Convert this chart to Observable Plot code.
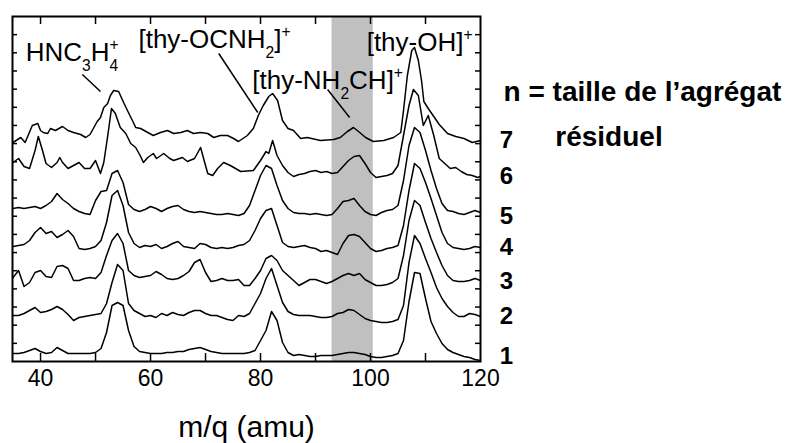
<!DOCTYPE html>
<html><head><meta charset="utf-8">
<script src="https://cdn.jsdelivr.net/npm/d3@7"></script>
<script src="https://cdn.jsdelivr.net/npm/@observablehq/plot@0.6"></script>
<style>body{margin:0;background:#fff;}</style>
</head><body><div id="chart"></div>
<script>
// m/q grid (amu) for the spectra sampled at integer masses
const mzGrid = d3.range(35, 121);
// intensities (arbitrary units, stacked as drawn) for residual cluster size n
const n1 = [8,8,9,11,13,10,8,9,14,11, 8,8,8,8,8,9,13,29,56,59, 56,31,15,10,9,8,8,8,9,9, 10,10,12,13,14,12,10,9,8,8, 8,8,8,9,11,21,31,50,41,19, 9,6,7,6,5,5,6,6,6,7, 8,9,9,8,7,5,4,4,5,6, 8,21,60,89,88,63,40,28,18,12, 9,7,5,4,2,1];
const n2 = [46,46,48,51,54,49,50,52,55,52, 47,41,44,45,46,47,48,58,79,97, 91,58,51,48,45,46,44,48,46,49, 47,46,49,51,51,48,46,46,44,42, 41,46,45,48,58,68,83,93,76,59, 50,47,46,46,46,45,44,44,45,48, 49,52,51,47,43,41,40,39,39,40, 42,56,99,126,118,103,89,74,63,55, 49,45,45,48,47,45];
const n3 = [84,91,75,79,89,91,85,84,95,96, 93,81,81,83,84,83,89,106,121,128, 118,91,86,84,85,86,90,87,83,82, 83,86,90,99,102,89,80,81,83,81, 81,82,76,76,83,91,103,106,101,91, 86,81,76,79,82,82,80,78,80,83, 86,88,86,88,82,79,76,76,77,79, 83,106,141,161,156,139,123,109,96,86, 81,80,80,81,83,81];
const n4 = [115,116,117,121,129,134,128,130,124,127, 131,125,113,112,113,115,121,139,166,171, 156,129,118,114,116,115,117,113,115,118, 120,115,114,113,118,117,114,113,114,113, 114,116,117,121,131,143,151,153,136,119, 115,114,115,116,114,113,110,111,109,107, 118,126,127,125,119,113,110,111,113,114, 116,136,171,198,193,179,163,146,129,118, 114,113,112,113,115,114];
const n5 = [153,154,153,154,155,153,156,160,168,162, 158,153,150,148,147,161,170,171,188,191, 179,157,152,150,152,155,153,150,153,155, 156,152,150,149,150,149,148,147,147,148, 147,146,148,156,171,186,196,193,176,161, 153,149,148,148,147,148,147,146,147,153, 160,161,163,156,150,147,146,149,151,152, 156,181,216,234,229,211,191,173,158,151, 150,148,147,149,151,149];
// [m/q, intensity] pairs read at irregular positions
const n6 = [[35,199],[36,203],[37,195],[38,193],[39,211],[39.6,225],[40.3,212],[41,198],[42,194],[43,199],[43.5,204],[44,199],[45,193],[46,196],[47,199],[48,193],[49,193],[50,201],[50.9,188],[51.5,199],[52.2,225],[52.9,253],[53.6,248],[54.5,234],[55.5,228],[56.4,218],[57.3,214],[58.2,205],[58.7,199],[59.5,204],[60.5,208],[61.1,203],[62.4,208],[63.5,203],[64.2,201],[65.8,204],[66.7,200],[68,203],[69.1,214],[70.4,188],[71.3,186],[72.2,193],[73.3,199],[74.5,196],[76.4,190],[78.7,191],[80,201],[81,210],[81.5,208],[82.2,221],[83,206],[84,196],[85,189],[86,185],[87,187],[88,188],[89,190],[90,191],[91,189],[92,190],[93,188],[94,189],[95,195],[96,201],[97,205],[98,206],[99,198],[100,189],[101,184],[102,185],[103,186],[104,188],[105,196],[106,226],[107,256],[107.8,272],[108.7,266],[109.6,236],[110.5,246],[111.5,226],[112.5,203],[113.5,198],[114.5,193],[115.5,194],[116.5,190],[117.5,187],[118.5,186],[119.5,184],[120,185]];
const n7 = [[35,219],[36.4,224],[37.2,219],[38.5,236],[39.5,238],[40,231],[40.5,229],[41.3,228],[41.8,233],[42.7,231],[44,235],[45,231],[46,229],[47.3,227],[48.2,224],[49,227],[49.6,233],[50.3,240],[50.9,244],[51.5,254],[52.2,258],[52.7,266],[53.3,271],[54.2,270],[55.1,259],[55.8,251],[56.7,241],[57.3,234],[58.2,233],[59.5,229],[60.5,226],[61.8,229],[63.1,231],[64.2,228],[65.5,229],[66.7,231],[67.8,228],[69.1,229],[70.4,228],[71.5,224],[72.7,226],[74,226],[75.1,223],[76,220],[77.6,226],[78.7,233],[79.6,246],[80.5,256],[81.5,265],[82.2,268],[83.1,261],[84,241],[85,233],[86,231],[87.3,223],[88.5,224],[90.9,221],[93.3,222],[94.5,224],[95.8,230],[96.9,234],[97.6,231],[99.1,224],[100.5,220],[102.4,221],[104.2,224],[105.5,229],[106,251],[106.7,286],[107.5,311],[108,314],[108.7,301],[109.3,280],[109.7,260],[110.5,253],[111.5,245],[112.5,237],[114,228],[115.5,225],[117,223],[118.5,219],[120,221]];

const band = [93, 100.5];
const xTickLabels = [40, 60, 80, 100, 120];
const xMinorTicks = [40, 50, 60, 70, 80, 90, 100, 110];
const yTickCount = 19;
const yMax = 345;

const sizeLabels = ["1","2","3","4","5","6","7"];
const sizeLevels = [5, 45, 80, 114, 145, 185, 221];

const peakLabels = ["HNC_3H_4^+", "[thy-OCNH_2]^+", "[thy-NH_2CH]^+", "[thy-OH]^+"];
const peakLabelM = [37.3, 57.8, 78.5, 99.3];
const peakLabelH = [301, 314, 273, 311];
const leaderFrom = [[47.6, 287], [72.4, 308], [92.2, 272]];
const leaderTo = [[50.9, 270], [79.5, 249], [96.2, 244]];

// build tables
const rows = [];
[n1, n2, n3, n4, n5].forEach((arr, i) => arr.forEach((h, j) => rows.push({n: i + 1, m: mzGrid[j], h})));
[n6, n7].forEach((arr, i) => arr.forEach(([m, h]) => rows.push({n: i + 6, m, h})));
const annot = peakLabels.map((t, i) => ({t, m: peakLabelM[i], h: peakLabelH[i]}));
const leaders = leaderFrom.map((f, i) => ({x1: f[0], y1: f[1], x2: leaderTo[i][0], y2: leaderTo[i][1]}));
const sizeRows = sizeLabels.map((t, i) => ({t, h: sizeLevels[i]}));
const yTicks = d3.range(1, yTickCount).map(k => k * yMax / yTickCount);

const plot = Plot.plot({
  width: 790, height: 443,
  marginLeft: 12, marginRight: 310, marginTop: 16, marginBottom: 82,
  style: {fontFamily: "'Liberation Sans', Arial, sans-serif", fontSize: "23px", color: "black", background: "white"},
  x: {domain: [34.9, 120], ticks: xTickLabels, tickSize: 0, tickPadding: 8, label: null},
  y: {domain: [0, yMax], axis: null},
  marks: [
    Plot.rect([band], {x1: d => d[0], x2: d => d[1], fill: "#c0c0c0"}),
    Plot.line(rows, {x: "m", y: "h", z: "n", stroke: "black", strokeWidth: 1.5}),
    Plot.tickX(xMinorTicks, {x: d => d, stroke: "black", strokeWidth: 1.5, insetTop: 337}),
    Plot.tickX(xMinorTicks, {x: d => d, stroke: "black", strokeWidth: 1.5, insetBottom: 337}),
    Plot.tickY(yTicks, {y: d => d, stroke: "black", strokeWidth: 1.5, insetRight: 463}),
    Plot.tickY(yTicks, {y: d => d, stroke: "black", strokeWidth: 1.5, insetLeft: 463}),
    Plot.frame({stroke: "black", strokeWidth: 2}),
    Plot.link(leaders, {x1: "x1", y1: "y1", x2: "x2", y2: "y2", stroke: "black", strokeWidth: 1.5}),
    Plot.text(annot, {x: "m", y: "h", text: "t", textAnchor: "start", lineAnchor: "bottom", fontSize: 26, fill: "black"}),
    Plot.text(sizeRows, {x: 124.7, y: "h", text: "t", fontSize: 24, fontWeight: "bold", fill: "black"}),
    Plot.text(["n = taille de l’agrégat"], {x: 124.2, y: 261, text: d => d, textAnchor: "start", lineAnchor: "bottom", fontSize: 28, fontWeight: "bold", fill: "black"}),
    Plot.text(["résiduel"], {x: 133.6, y: 216, text: d => d, textAnchor: "start", lineAnchor: "bottom", fontSize: 28, fontWeight: "bold", fill: "black"}),
    Plot.text(["m/q (amu)"], {frameAnchor: "bottom", dy: 75, lineAnchor: "bottom", text: d => d, fontSize: 30, fill: "black"})
  ]
});
document.getElementById("chart").appendChild(plot);

// turn _x / ^x markers into real sub/superscript tspans
const NS = "http://www.w3.org/2000/svg";
plot.querySelectorAll("text").forEach(t => {
  const s = t.textContent;
  if (!/[_^]/.test(s)) return;
  const fs = parseFloat(getComputedStyle(t).fontSize) || 26;
  const small = 0.6 * fs, shift = 0.4 * fs;
  t.textContent = "";
  let cur = 0, buf = "", prevKind = null;
  const add = (txt, kind) => {
    const ts = document.createElementNS(NS, "tspan");
    ts.textContent = txt;
    const target = kind === "sub" ? shift : kind === "sup" ? -shift : 0;
    if (target !== cur) ts.setAttribute("dy", target - cur);
    cur = target;
    if (kind !== "normal") ts.setAttribute("font-size", small);
    if (kind === "sup" && prevKind === "sub") ts.setAttribute("dx", -0.56 * small);
    t.appendChild(ts);
    prevKind = kind;
  };
  for (let i = 0; i < s.length; i++) {
    const c = s[i];
    if ((c === "_" || c === "^") && i + 1 < s.length) {
      if (buf) { add(buf, "normal"); buf = ""; }
      add(s[i + 1], c === "_" ? "sub" : "sup");
      i++;
    } else buf += c;
  }
  if (buf) add(buf, "normal");
});
</script>
</body></html>
